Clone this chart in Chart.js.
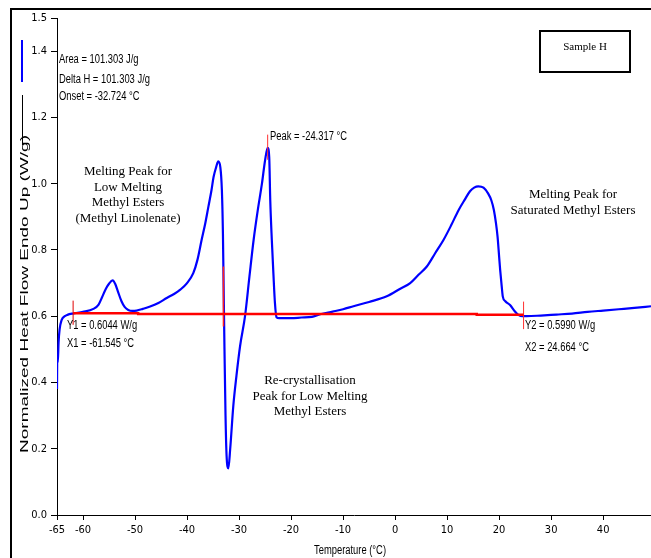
<!DOCTYPE html>
<html>
<head>
<meta charset="utf-8">
<script src="https://cdn.jsdelivr.net/npm/chart.js@4.4.1/dist/chart.umd.min.js"></script>
<style>
html,body{margin:0;padding:0;background:#fff;}
#wrap{width:651px;height:558px;position:relative;}
</style>
</head>
<body>
<div id="wrap"><canvas id="c" width="651" height="558"></canvas></div>
<script>
// ---- data ----
const temps = [-65.0,-64.95,-64.85,-64.7,-64.5,-64.1,-63.5,-63.0,-62.0,-60.0,-58.0,-57.0,-56.4,-55.6,-55.0,-54.3,-53.8,-53.3,-52.6,-52.0,-51.3,-50.5,-49.7,-48.5,-47.1,-45.5,-43.9,-42.5,-41.3,-40.0,-38.8,-38.0,-37.2,-36.5,-35.9,-35.3,-34.9,-34.4,-34.0,-33.6,-33.3,-33.1,-33.0,-32.8,-32.6,-32.4,-32.05,-31.7,-31.1,-30.5,-29.8,-28.85,-28.0,-27.2,-26.4,-25.6,-25.0,-24.5,-24.2,-24.0,-23.7,-23.4,-23.1,-22.8,-22.3,-20.0,-18.0,-16.0,-14.4,-12.0,-10.0,-8.0,-5.0,-1.6,1.0,2.9,4.5,6.1,7.7,9.3,10.8,12.2,13.4,14.4,15.2,16.0,17.0,17.9,18.5,19.0,19.4,19.7,20.0,20.2,20.5,20.7,21.2,22.1,23.0,23.7,24.5,25.3,28.0,31.0,34.0,37.0,40.0,43.0,46.0,49.2];
const heatFlow = [0.38,0.47,0.46,0.52,0.56,0.589,0.600,0.604,0.608,0.613,0.622,0.635,0.655,0.683,0.698,0.708,0.697,0.675,0.645,0.628,0.619,0.616,0.617,0.622,0.629,0.640,0.655,0.667,0.680,0.700,0.730,0.770,0.830,0.880,0.930,0.980,1.020,1.050,1.067,1.050,0.980,0.850,0.730,0.500,0.300,0.180,0.141,0.200,0.330,0.420,0.510,0.600,0.720,0.830,0.920,1.000,1.070,1.108,1.080,0.950,0.830,0.730,0.640,0.597,0.594,0.594,0.596,0.598,0.606,0.614,0.621,0.630,0.643,0.660,0.683,0.700,0.725,0.750,0.790,0.830,0.875,0.920,0.952,0.977,0.988,0.992,0.988,0.970,0.950,0.920,0.880,0.840,0.780,0.740,0.690,0.660,0.645,0.634,0.615,0.604,0.600,0.600,0.602,0.605,0.608,0.613,0.617,0.621,0.625,0.630];
const baselineT = [-61.9,-49.4,-49.4,15.7,15.7,24.7];
const baselineV = [0.609,0.609,0.607,0.607,0.604,0.604];
const markerX1T = [-61.9,-61.9], markerX1V = [0.574,0.647];
const markerOnsetT = [-33.0,-33.0], markerOnsetV = [0.569,0.750];
const markerPeakT = [-24.5,-24.5], markerPeakV = [1.072,1.148];
const markerX2T = [24.7,24.7], markerX2V = [0.561,0.644];
const xTicks = [-65,-60,-50,-40,-30,-20,-10,0,10,20,30,40];
const yTicks = [0.0,0.2,0.4,0.6,0.8,1.0,1.2,1.4,1.5];
const xMin = -65, xMax = 49.2, yMin = 0, yMax = 1.5;

const toXY = (xs, ys) => xs.map((x,i)=>({x:x, y:ys[i]}));

const SANS = '"Liberation Sans", Arial, sans-serif';
const NARROW = '"Liberation Sans Narrow", "Arial Narrow", "DejaVu Sans Condensed", sans-serif';
const SERIF = '"Liberation Serif", "Times New Roman", serif';

function txt(ctx, s, x, y, font, align, sx){
  ctx.save();
  ctx.translate(x, y);
  ctx.scale(sx||1, 1);
  ctx.font = font;
  ctx.fillStyle = '#000';
  ctx.textAlign = align || 'left';
  ctx.textBaseline = 'middle';
  ctx.fillText(s, 0, 0);
  ctx.restore();
}

const overlay = {
  id:'overlay',
  afterDraw(chart){
    const ctx = chart.ctx;
    ctx.save();
    // outer frame
    ctx.fillStyle = '#000';
    ctx.fillRect(10, 8, 641, 2);
    ctx.fillRect(10, 8, 2, 550);
    // legend-like marks
    ctx.fillStyle = '#0000ff';
    ctx.fillRect(21, 40, 2, 42);
    ctx.fillStyle = '#000';
    ctx.fillRect(22, 95, 1, 50);
    ctx.restore();

    const sf = '12.5px ' + SANS, sx = 0.75;
    txt(ctx,'Area = 101.303 J/g',59,60,sf,'left',sx);
    txt(ctx,'Delta H = 101.303 J/g',59,80,sf,'left',sx);
    txt(ctx,'Onset = -32.724 \u00B0C',59,97,sf,'left',sx);
    txt(ctx,'Peak = -24.317 \u00B0C',270,137,sf,'left',sx);
    txt(ctx,'Y1 = 0.6044 W/g',67,326,sf,'left',sx);
    txt(ctx,'X1 = -61.545 \u00B0C',67,344,sf,'left',sx);
    txt(ctx,'Y2 = 0.5990 W/g',525,326,sf,'left',sx);
    txt(ctx,'X2 = 24.664 \u00B0C',525,348,sf,'left',sx);
    txt(ctx,'Temperature (\u00B0C)',350,551,sf,'center',sx);

    const rf = '13px ' + SERIF;
    ['Melting Peak for','Low Melting','Methyl Esters','(Methyl Linolenate)'].forEach((s,i)=>txt(ctx,s,128,172+i*15.5,rf,'center'));
    ['Melting Peak for','Saturated Methyl Esters'].forEach((s,i)=>txt(ctx,s,573,195+i*16,rf,'center'));
    ['Re-crystallisation','Peak for Low Melting','Methyl Esters'].forEach((s,i)=>txt(ctx,s,310,381+i*15.5,rf,'center'));

    // Sample H box
    ctx.save();
    ctx.strokeStyle = '#000';
    ctx.lineWidth = 2;
    ctx.strokeRect(540, 31, 90, 41);
    ctx.restore();
    txt(ctx,'Sample H',585,47,'11px ' + SERIF,'center');

    // y title (stretched along its length)
    ctx.save();
    ctx.translate(25, 294);
    ctx.rotate(-Math.PI/2);
    ctx.font = '10.5px ' + SANS;
    const w = ctx.measureText('Normalized Heat Flow Endo Up (W/g)').width;
    ctx.scale(318 / w, 1);
    ctx.fillStyle = '#000';
    ctx.textAlign = 'center';
    ctx.textBaseline = 'middle';
    ctx.fillText('Normalized Heat Flow Endo Up (W/g)', 0, 0);
    ctx.restore();
  }
};

new Chart(document.getElementById('c'), {
  type: 'line',
  data: {
    datasets: [
      {data: toXY(temps, heatFlow), borderColor:'#0000ff', borderWidth:2.2, pointRadius:0, cubicInterpolationMode:'monotone', fill:false, order:3},
      {data: toXY(baselineT, baselineV), borderColor:'#ff0000', borderWidth:2.5, pointRadius:0, tension:0, fill:false, order:1},
      {data: toXY(markerX1T, markerX1V), borderColor:'#e00000', borderWidth:1, pointRadius:0, fill:false, order:1},
      {data: toXY(markerOnsetT, markerOnsetV), borderColor:'#ff2020', borderWidth:1.5, pointRadius:0, fill:false, order:1},
      {data: toXY(markerPeakT, markerPeakV), borderColor:'#ff3030', borderWidth:1, pointRadius:0, fill:false, order:1},
      {data: toXY(markerX2T, markerX2V), borderColor:'#ff3030', borderWidth:1, pointRadius:0, fill:false, order:1}
    ]
  },
  options: {
    responsive:false,
    animation:false,
    devicePixelRatio:1,
    layout:{padding:{top:18,left:0,right:0,bottom:0}},
    plugins:{legend:{display:false}, tooltip:{enabled:false}},
    scales:{
      x:{
        type:'linear', min:xMin, max:xMax,
        afterBuildTicks(s){ s.ticks = xTicks.map(v=>({value:v})); },
        afterFit(s){ s.height = 43; },
        grid:{display:true, drawOnChartArea:false, drawTicks:true, tickLength:5, color:'#000'},
        border:{display:true, color:'#000', width:1},
        ticks:{color:'#000', padding:4, maxRotation:0, autoSkip:false, font:{family:NARROW, size:11}, callback:v=>String(v)}
      },
      y:{
        type:'linear', min:yMin, max:yMax,
        afterBuildTicks(s){ s.ticks = yTicks.map(v=>({value:v})); },
        afterFit(s){ s.width = 57; },
        grid:{display:true, drawOnChartArea:false, drawTicks:true, tickLength:6, color:'#000'},
        border:{display:true, color:'#000', width:1},
        ticks:{color:'#000', padding:4, autoSkip:false, font:{family:NARROW, size:11}, callback:v=>Number(v).toFixed(1)}
      }
    }
  },
  plugins:[overlay]
});
</script>
</body>
</html>
